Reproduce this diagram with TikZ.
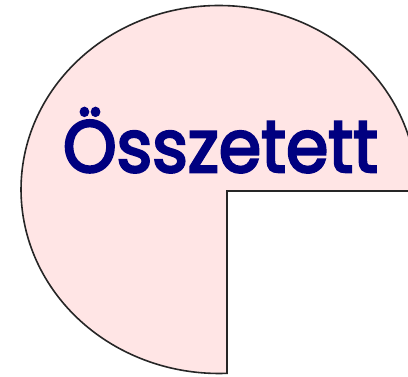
\documentclass[tikz,border=0pt]{standalone}
\usepackage{fontspec}
\usepackage{graphicx}
\setmainfont{Poppins}
\definecolor{piefill}{RGB}{255,229,229}
\definecolor{labelblue}{RGB}{0,0,128}
\tikzset{
  pie/.style={fill=piefill, draw=black!85, line width=1.6pt, line join=miter},
  label/.style={text=labelblue, inner sep=0pt, anchor=base}
}
\begin{document}
\begin{tikzpicture}[x=1pt,y=1pt]
\useasboundingbox (0,0) rectangle (408,376);
\begin{scope}
\clip (0,0) rectangle (408,376);
\path[pie] (227,185) -- (417,185) arc[start angle=-0.47, end angle=272.3, x radius=198, y radius=184] -- cycle;
\end{scope}
\node[label] (title) at (220.5,204) {\resizebox{315pt}{64pt}{\addfontfeature{FakeBold=3.5}Összetett}};
\end{tikzpicture}
\end{document}
